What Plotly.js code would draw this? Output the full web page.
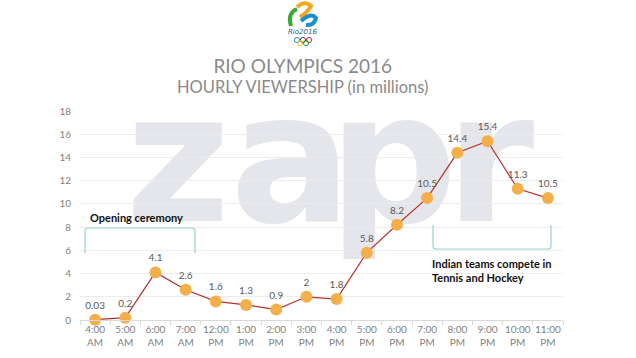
<!DOCTYPE html>
<html>
<head>
<meta charset="utf-8">
<script src="https://cdn.plot.ly/plotly-3.0.1.min.js"></script>
<style>html,body{margin:0;padding:0;background:#fff;}#chart{width:636px;height:358px;}</style>
</head>
<body>
<div id="chart"></div>
<script>
// ---- data ----
const hours = ["4:00 AM","5:00 AM","6:00 AM","7:00 AM","12:00 PM","1:00 PM","2:00 PM","3:00 PM","4:00 PM","5:00 PM","6:00 PM","7:00 PM","8:00 PM","9:00 PM","10:00 PM","11:00 PM"];
const viewers = [0.03, 0.2, 4.1, 2.6, 1.6, 1.3, 0.9, 2, 1.8, 5.8, 8.2, 10.5, 14.4, 15.4, 11.3, 10.5];
const hourLabels = hours.map(h => h.replace(" ", "<br>"));
const titleText = "RIO OLYMPICS 2016";
const subtitleText = "HOURLY VIEWERSHIP (in millions)";
const note1 = "Opening ceremony";
const note2 = "Indian teams compete in<br>Tennis and Hockey";
const watermark = ["z","a","p","r"];

// ---- layout helpers (pixel -> paper) ----
const W = 636, H = 358, L = 80, R = 73, T = 111, B = 38;
const PW = W - L - R, PH = H - T - B;
const px = x => (x - L) / PW;
const py = y => (H - B - y) / PH;
function path(cmds) {
  return cmds.map(c => c[0] + " " + c.slice(1).map((v, i) => (i % 2 === 0 ? px(v) : py(v)).toFixed(5)).join(",")).join(" ");
}
function circ(cx, cy, r, col) {
  return {type: "circle", xref: "paper", yref: "paper", x0: px(cx - r), x1: px(cx + r), y0: py(cy + r), y1: py(cy - r), line: {color: col, width: 0.9}};
}

const shapes = [];
// watermark letters
const wmBoxes = [[130, 226], [240, 342], [350, 436], [458, 522]];
watermark.forEach((ch, i) => {
  shapes.push({type: "rect", layer: "below", xref: "paper", yref: "paper",
    x0: px(wmBoxes[i][0]), x1: px(wmBoxes[i][1]), y0: py(219), y1: py(72),
    line: {width: 0}, fillcolor: "rgba(0,0,0,0)",
    label: {text: ch, textposition: "middle center", font: {family: "DejaVu Sans", size: 180, color: "#e4e6eb", weight: 700}}});
});
// brackets
const teal = "#93d6cf";
shapes.push({type: "path", xref: "paper", yref: "paper", line: {color: teal, width: 1.2},
  path: path([["M",85,253],["L",85,231],["Q",85,228,88,228],["L",192,228],["Q",195,228,195,231],["L",195,253]])});
shapes.push({type: "path", xref: "paper", yref: "paper", line: {color: teal, width: 1.2},
  path: path([["M",433,225],["L",433,246],["Q",433,249,436,249],["L",548,249],["Q",551,249,551,246],["L",551,225]])});
// logo
shapes.push({type: "path", xref: "paper", yref: "paper", line: {color: "#3aa935", width: 4},
  path: path([["M",291,26],["Q",287,13,297,9]])});
shapes.push({type: "path", xref: "paper", yref: "paper", line: {color: "#f2a81d", width: 4},
  path: path([["M",297,7],["Q",305,0,311,6],["Q",307,13,300,17]])});
shapes.push({type: "path", xref: "paper", yref: "paper", line: {color: "#1a8fd0", width: 4},
  path: path([["M",301,21],["Q",311,12,316,18],["Q",314,26,306,25]])});
shapes.push(circ(297, 40, 2.6, "#0085c7"));
shapes.push(circ(303, 40, 2.6, "#333333"));
shapes.push(circ(309, 40, 2.6, "#df0024"));
shapes.push(circ(300, 43, 2.6, "#f4c300"));
shapes.push(circ(306, 43, 2.6, "#009f3d"));

const annotations = [
  {text: '<span style="font-size:19px">' + titleText + '</span><br><span style="font-size:16.5px">' + subtitleText + '</span>',
   xref: "paper", yref: "paper", x: px(302), y: py(76), xanchor: "center", yanchor: "middle", align: "center", showarrow: false,
   font: {family: "Lato", size: 15, color: "#8a8a8a"}},
  {text: "Rio2016", xref: "paper", yref: "paper", x: px(302), y: py(32), xanchor: "center", yanchor: "middle", showarrow: false,
   font: {family: "DejaVu Sans", size: 7, color: "#1f5f7a", style: "italic"}},
  {text: note1, xref: "paper", yref: "paper", x: px(88), y: py(217), xanchor: "left", yanchor: "middle", showarrow: false,
   font: {family: "Lato", size: 11, color: "#111111", weight: 700}},
  {text: note2, xref: "paper", yref: "paper", x: px(430), y: py(255), xanchor: "left", yanchor: "top", align: "left", showarrow: false,
   font: {family: "Lato", size: 11, color: "#111111", weight: 700}}
];

const trace = {
  x: hours, y: viewers, type: "scatter", mode: "lines+markers+text",
  text: viewers.map(String), textposition: "top center",
  textfont: {family: "Lato", size: 10, color: "#5a5a5a"},
  line: {color: "#b8322c", width: 1.2},
  marker: {size: 12, color: "#f3b04a"},
  cliponaxis: false, hoverinfo: "none"
};

const layout = {
  width: W, height: H,
  margin: {l: L, r: R, t: T, b: B},
  paper_bgcolor: "#ffffff", plot_bgcolor: "rgba(0,0,0,0)",
  showlegend: false,
  font: {family: "Lato", color: "#7f7f7f"},
  xaxis: {type: "category", range: [-0.5, 15.5], tickvals: hours, ticktext: hourLabels, tickangle: 0,
    showgrid: false, zeroline: false, showline: true, linecolor: "#d9d9d9", linewidth: 1,
    ticks: "outside", tickson: "boundaries", ticklen: 4, tickcolor: "#d9d9d9",
    tickfont: {family: "Lato", size: 10, color: "#7f7f7f"}},
  yaxis: {range: [0, 18], dtick: 2, showgrid: true, gridcolor: "#ececec", zeroline: false, showline: false,
    ticks: "", ticklabelstandoff: 8, tickfont: {family: "Lato", size: 10, color: "#7f7f7f"}},
  shapes: shapes, annotations: annotations
};

Plotly.newPlot("chart", [trace], layout, {staticPlot: true, displayModeBar: false});
</script>
</body>
</html>
